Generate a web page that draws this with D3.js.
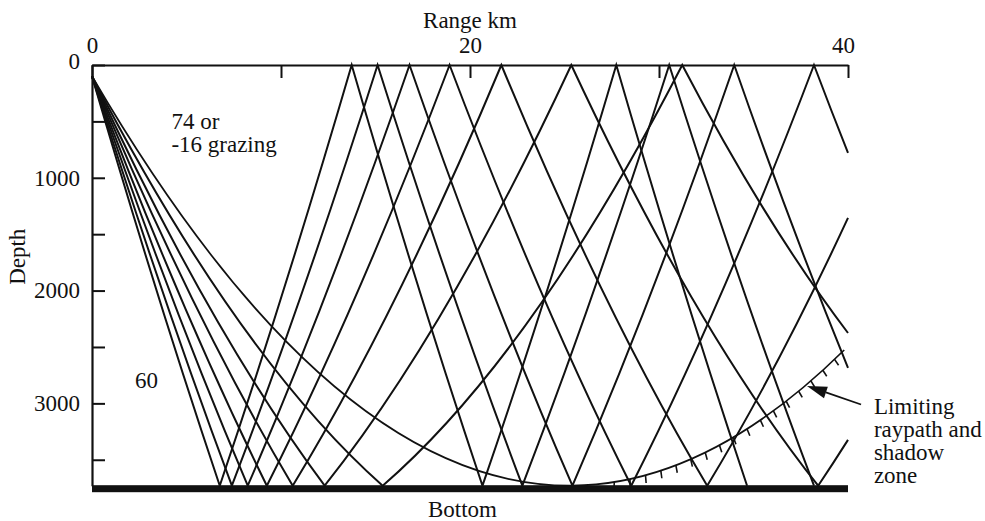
<!DOCTYPE html>
<html><head><meta charset="utf-8">
<script src="https://cdn.jsdelivr.net/npm/d3@7"></script>
<style>
body{margin:0;background:#fff}
text{font-family:"Liberation Serif","DejaVu Serif",serif;fill:#111}
</style>
</head><body>
<svg id="c" width="985" height="521"></svg>
<script>
// ---------- data ----------
const rangeMajorTicks = [0, 20, 40];          // km
const rangeAllTicks = [0, 10, 20, 30, 40];
const depthMajorTicks = [0, 1000, 2000, 3000]; // m
const depthAllTicks = [0, 500, 1000, 1500, 2000, 2500, 3000, 3500];
const bottomDepth = 3730;   // m
const maxRange = 40;        // km
const rayRadiusKm = 88;     // radius of curvature of the arcs (linear speed gradient)

// reflection / end points of every ray : [range km, depth m]
const ray60 = [[0,100],[6.76,3730],[13.74,0],[20.66,3730],[27.74,0],[34.66,3730]];
const rayB  = [[0,100],[7.40,3730],[15.11,0],[22.77,3730],[30.54,0],[38.20,3730]];
const rayC  = [[0,100],[8.24,3730],[16.80,0],[25.42,3730],[33.98,0],[40,2686]];
const rayD  = [[0,100],[9.25,3730],[18.92,0],[28.53,3730],[38.20,0],[40,780]];
const rayE  = [[0,100],[10.62,3730],[21.66,0],[32.55,3730],[40,1356]];
const rayF  = [[0,100],[12.31,3730],[25.36,0],[38.42,3730],[40,3324]];
const rayG  = [[0,100],[15.38,3730],[31.23,0],[40,2376]];
const rayLimiting = [[0,100],[25.4,3730],[39.8,2527]];
const rays = [ray60, rayB, rayC, rayD, rayE, rayF, rayG];

// ---------- drawing ----------
const svg = d3.select("#c");
const x = d3.scaleLinear().domain([0, maxRange]).range([92, 848]);
const y = d3.scaleLinear().domain([0, bottomDepth]).range([65, 485.7]);
const FS = 23;

function rayPath(pts) {
  const p = d3.path();
  p.moveTo(x(pts[0][0]), y(pts[0][1]));
  for (let i = 1; i < pts.length; i++) {
    const a = pts[i-1], b = pts[i];
    const x0 = a[0], z0 = a[1]/1000, x1 = b[0], z1 = b[1]/1000;
    const xv = (x0 + x1)/2 + rayRadiusKm*(z1 - z0)/(x1 - x0);
    const cx = (x0 + x1)/2;
    const cz = z0 + (xv - x0)/rayRadiusKm*(x1 - x0)/2;
    p.quadraticCurveTo(x(cx), y(cz*1000), x(x1), y(b[1]));
  }
  return p.toString();
}

// bottom bar
svg.append("rect")
  .attr("x", x(0)).attr("y", y(bottomDepth) - 0.5)
  .attr("width", x(maxRange) - x(0)).attr("height", 7)
  .attr("fill", "#111");

// rays
svg.append("g").selectAll("path").data(rays).join("path")
  .attr("d", d => rayPath(d))
  .attr("fill", "none").attr("stroke", "#111").attr("stroke-width", 2);

const lim = svg.append("path")
  .attr("d", rayPath(rayLimiting))
  .attr("fill", "none").attr("stroke", "#111").attr("stroke-width", 1.7);

// shadow-zone hatch ticks under the limiting ray
const node = lim.node();
const L = node.getTotalLength();
const hatch = [];
for (let s = 0; s < L; s += 1) {
  const p = node.getPointAtLength(s);
  if (p.x >= x(27.6) && p.x <= x(39.7)) {
    if (!hatch.length || Math.hypot(p.x - hatch[hatch.length-1].x, p.y - hatch[hatch.length-1].y) >= 15.5) {
      const q = node.getPointAtLength(Math.min(L, s + 1));
      let dx = q.x - p.x, dy = q.y - p.y; const n = Math.hypot(dx, dy) || 1;
      dx /= n; dy /= n;
      hatch.push({x: p.x, y: p.y, nx: -dy, ny: dx});
    }
  }
}
svg.append("g").selectAll("line").data(hatch).join("line")
  .attr("x1", d => d.x).attr("y1", d => d.y)
  .attr("x2", d => d.x + d.nx*8 - 1.5).attr("y2", d => d.y + d.ny*8)
  .attr("stroke", "#111").attr("stroke-width", 1.6);

// axes
const xAxis = d3.axisTop(x).tickValues(rangeAllTicks).tickSize(-13).tickSizeOuter(0).tickPadding(12)
  .tickFormat(d => rangeMajorTicks.includes(d) ? d : "");
const gx = svg.append("g").attr("transform", `translate(0,${y(0)})`).call(xAxis);
const yAxis = d3.axisLeft(y).tickValues(depthAllTicks).tickSize(-13).tickSizeOuter(0).tickPadding(12)
  .tickFormat(d => depthMajorTicks.includes(d) ? d : "");
const gy = svg.append("g").attr("transform", `translate(${x(0)},0)`).call(yAxis);
[gx, gy].forEach(g => {
  g.selectAll("path.domain").attr("stroke", "#111").attr("stroke-width", 2.2);
  g.selectAll(".tick line").attr("stroke", "#111").attr("stroke-width", 2);
  g.selectAll("text").style("font-family", '"Liberation Serif",serif').style("font-size", FS + "px").attr("fill", "#111");
});
gx.selectAll(".tick text").filter(d => d === 40).attr("dx", -5);
gy.selectAll(".tick text").filter(d => d === 0).attr("dy", "0.16em");

// titles
svg.append("text").attr("x", x(20)).attr("y", 28).attr("text-anchor", "middle")
  .style("font-size", FS + "px").text("Range km");
svg.append("text").attr("transform", `translate(25,${y(1700)}) rotate(-90)`).attr("text-anchor", "middle")
  .style("font-size", FS + "px").text("Depth");
svg.append("text").attr("x", x(19.6)).attr("y", 517).attr("text-anchor", "middle")
  .style("font-size", FS + "px").text("Bottom");

// annotations
svg.append("text").attr("x", x(4.2)).attr("y", y(570)).style("font-size", FS + "px").text("74 or");
svg.append("text").attr("x", x(4.2)).attr("y", y(770)).style("font-size", FS + "px").text("-16 grazing");
svg.append("text").attr("x", x(2.27)).attr("y", y(2860)).style("font-size", FS + "px").text("60");

const labelLines = ["Limiting", "raypath and", "shadow", "zone"];
svg.append("g").selectAll("text").data(labelLines).join("text")
  .attr("x", x(41.37)).attr("y", (d, i) => y(3095) + i*23)
  .style("font-size", FS + "px").text(d => d);

// arrow
const tip = [x(37.83), y(2846)], tail = [x(40.69), y(3010)];
const ux = (tip[0]-tail[0]), uy = (tip[1]-tail[1]); const ul = Math.hypot(ux, uy);
const u = [ux/ul, uy/ul], nrm = [-u[1], u[0]];
const base = [tip[0] - u[0]*20, tip[1] - u[1]*20];
svg.append("line").attr("x1", tail[0]).attr("y1", tail[1]).attr("x2", base[0]).attr("y2", base[1])
  .attr("stroke", "#111").attr("stroke-width", 1.8);
svg.append("path")
  .attr("d", `M${tip[0]},${tip[1]}L${base[0]+nrm[0]*6},${base[1]+nrm[1]*6}L${base[0]-nrm[0]*6},${base[1]-nrm[1]*6}Z`)
  .attr("fill", "#111");
</script>
</body></html>
